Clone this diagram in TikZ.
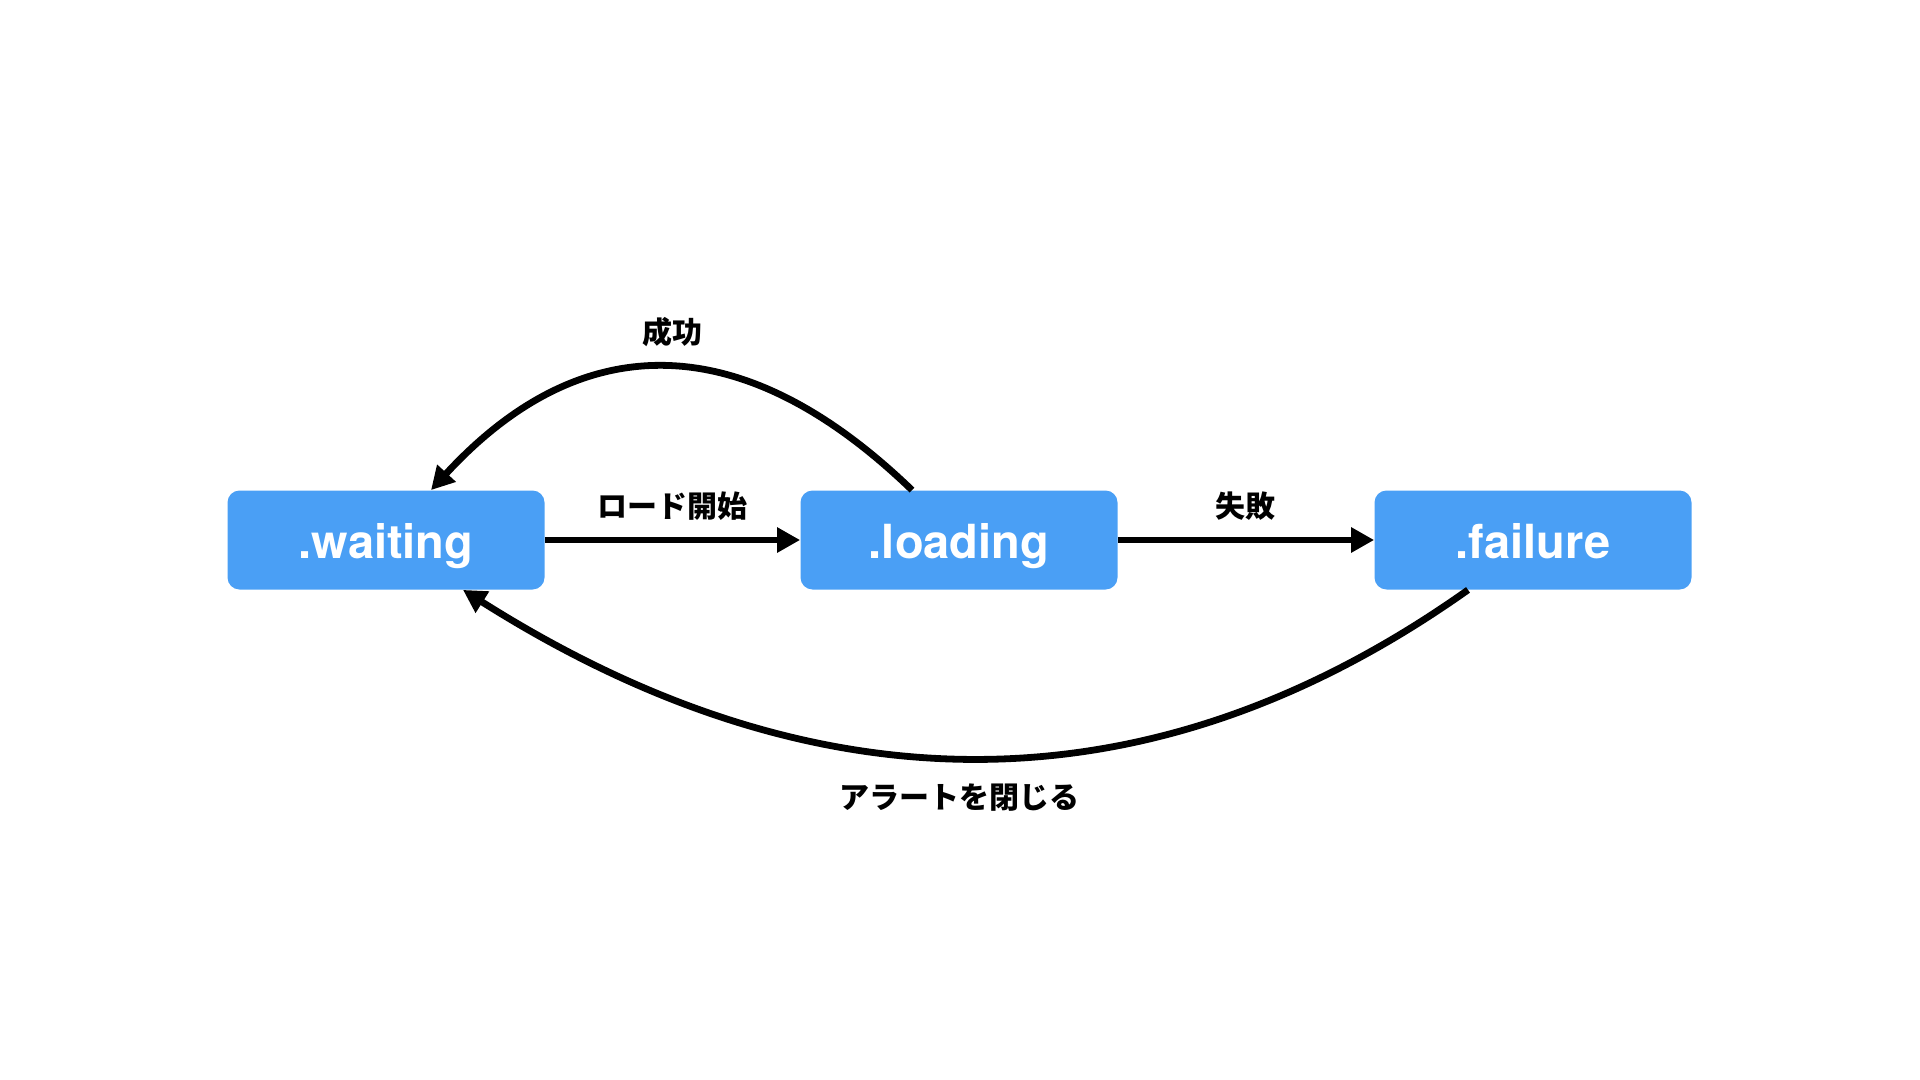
\documentclass[tikz,border=0pt]{standalone}
\usepackage{fontspec}
\setmainfont{TeX Gyre Heros}
\newfontfamily\cjk{Noto Sans CJK JP}
\usetikzlibrary{arrows.meta,calc}
\definecolor{boxblue}{RGB}{74,159,245}
\tikzset{
  state/.style={fill=boxblue, rounded corners=6pt, minimum width=158.5pt, minimum height=49.5pt, inner sep=0pt, text=white, text height=20pt, text depth=2pt, font=\bfseries\fontsize{23.5}{28}\selectfont},
  lbl/.style={font=\cjk\bfseries\fontsize{15}{18}\selectfont, text=black},
  conn/.style={line width=3.4pt, -{Triangle[length=11.5pt,width=12pt]}}
}
\begin{document}
\begin{tikzpicture}[x=0.5pt,y=-0.5pt]
\useasboundingbox (0,0) rectangle (1920,1080);
\node[state] (waiting) at (386,540) {.waiting};
\node[state] (loading) at (959,540) {.loading};
\node[state] (failure) at (1533,540) {.failure};
\draw[conn] (waiting.east) -- (loading.west);
\draw[conn] (loading.east) -- (failure.west);
\draw[conn] ($(loading.north)+(-47,0)$) .. controls (743,327) and (582,326) .. ($(waiting.north)+(45,0)$);
\draw[conn] ($(failure.south)+(-65,0)$) .. controls (1152,814) and (817,814) .. ($(waiting.south)+(77,0)$);
\node[lbl] (l1) at (672,506) {ロード開始};
\node[lbl] (l2) at (1245,506) {失敗};
\node[lbl] (l3) at (672,332) {成功};
\node[lbl] (l4) at (959,798) {アラートを閉じる};
\end{tikzpicture}
\end{document}
